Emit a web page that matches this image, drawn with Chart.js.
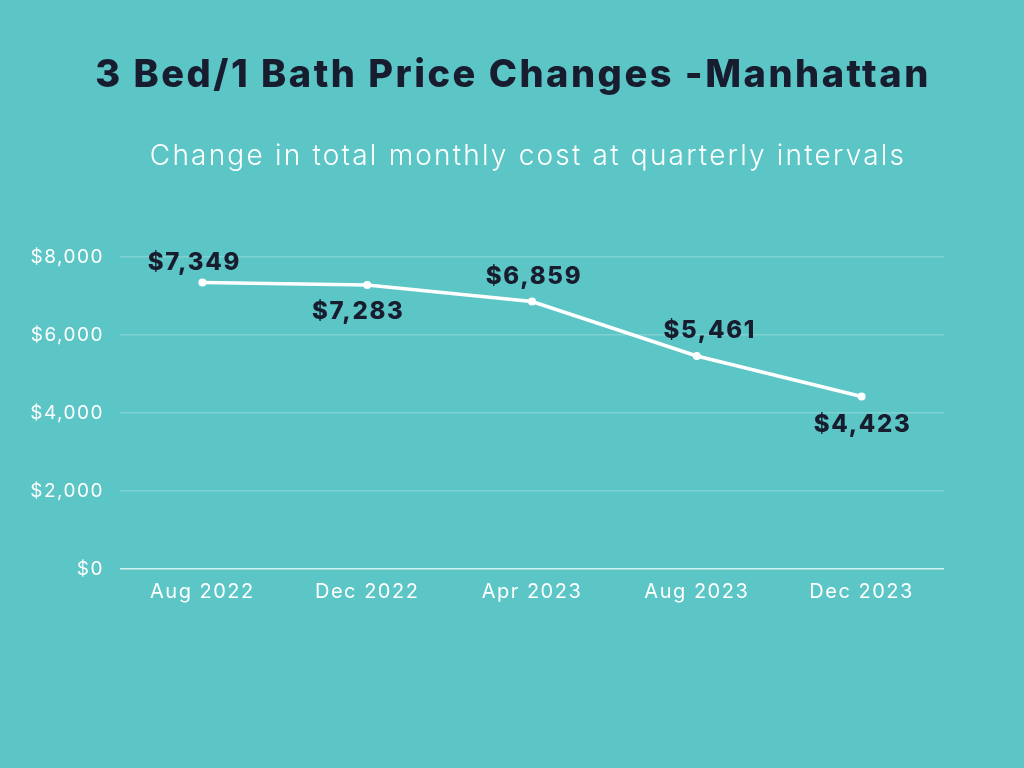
<!DOCTYPE html>
<html>
<head>
<meta charset="utf-8">
<script src="https://cdn.jsdelivr.net/npm/chart.js@4.4.0/dist/chart.umd.min.js"></script>
<style>
  html, body { margin: 0; padding: 0; background: #5CC5C5; }
  #wrap { width: 1024px; height: 768px; position: relative; }
</style>
</head>
<body>
<div id="wrap"><canvas id="c" width="1024" height="768"></canvas></div>
<script>
const titleText = '3 Bed/1 Bath Price Changes -Manhattan';
const subtitleText = 'Change in total monthly cost at quarterly intervals';
const categories = ['Aug 2022', 'Dec 2022', 'Apr 2023', 'Aug 2023', 'Dec 2023'];
const monthlyCost = [7349, 7283, 6859, 5461, 4423];
const yTicks = [0, 2000, 4000, 6000, 8000];

const fmt = v => '$' + v.toLocaleString('en-US');

const headerPlugin = {
  id: 'header',
  beforeDraw(chart) {
    const ctx = chart.ctx;
    ctx.save();
    ctx.fillStyle = '#5CC5C5';
    ctx.fillRect(0, 0, chart.width, chart.height);
    ctx.textAlign = 'center';
    ctx.textBaseline = 'middle';
    ctx.fillStyle = '#171C2E';
    ctx.font = '800 38px Inter';
    ctx.letterSpacing = '2.5px';
    ctx.fillText(titleText, 513, 76);
    ctx.fillStyle = '#FFFFFF';
    ctx.font = '300 28px Inter';
    ctx.letterSpacing = '2.2px';
    ctx.fillText(subtitleText, 528, 157);
    ctx.restore();
    // wider tracking for the axis tick labels drawn next
    ctx.letterSpacing = '1.5px';
  }
};

const valueLabelPlugin = {
  id: 'valueLabels',
  afterDatasetsDraw(chart, args, opts) {
    const ctx = chart.ctx;
    const meta = chart.getDatasetMeta(0);
    ctx.save();
    ctx.fillStyle = '#171C2E';
    ctx.font = '800 24px Inter';
    ctx.letterSpacing = '1.7px';
    ctx.textAlign = 'center';
    ctx.textBaseline = 'middle';
    meta.data.forEach((pt, i) => {
      const [dx, dy] = opts.offsets[i];
      ctx.fillText(fmt(monthlyCost[i]), pt.x + dx, pt.y + dy);
    });
    ctx.restore();
    ctx.letterSpacing = '0px';
  }
};

new Chart(document.getElementById('c'), {
  type: 'line',
  data: {
    labels: categories,
    datasets: [{
      data: monthlyCost,
      borderColor: '#FFFFFF',
      backgroundColor: '#FFFFFF',
      borderWidth: 3.5,
      pointRadius: 4,
      pointBackgroundColor: '#FFFFFF',
      pointBorderWidth: 0,
      tension: 0
    }]
  },
  options: {
    responsive: false,
    animation: false,
    devicePixelRatio: 1,
    layout: { padding: { top: 257, right: 80, bottom: 153, left: 0 } },
    plugins: {
      legend: { display: false }, tooltip: { enabled: false }, title: { display: false },
      valueLabels: { offsets: [[-8, -20], [-9, 27], [2, -25], [13, -25], [1, 28]] }
    },
    scales: {
      x: {
        offset: true,
        grid: { display: false, drawTicks: false },
        border: { display: false },
        ticks: { color: '#FFFFFF', font: { family: 'Inter', size: 20, weight: '400' }, padding: 11, maxRotation: 0 }
      },
      y: {
        min: 0, max: 8000,
        afterBuildTicks(scale) { scale.ticks = yTicks.map(v => ({ value: v })); },
        afterFit(scale) { scale.width = 120; },
        grid: {
          drawTicks: false,
          color: ctx => ctx.tick && ctx.tick.value === 0 ? 'rgba(255,255,255,0.75)' : 'rgba(255,255,255,0.22)',
          lineWidth: 1.5
        },
        border: { display: false },
        ticks: { color: '#FFFFFF', font: { family: 'Inter', size: 19, weight: '400' }, padding: 16, callback: v => fmt(v) }
      }
    }
  },
  plugins: [headerPlugin, valueLabelPlugin]
});
</script>
</body>
</html>
